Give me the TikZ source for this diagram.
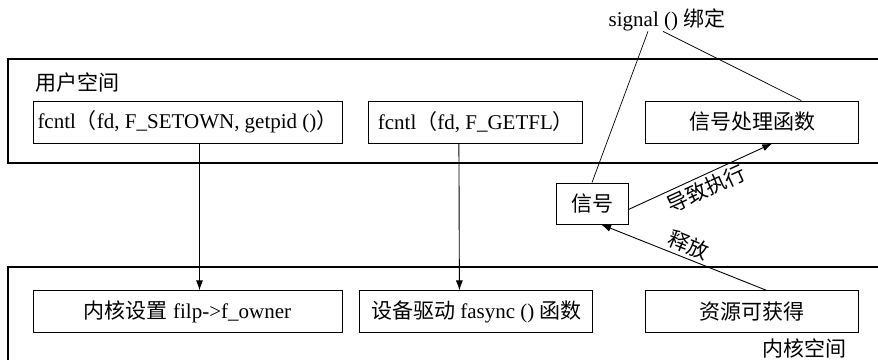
\documentclass[tikz,border=0pt]{standalone}
\usepackage{fontspec}
\setmainfont{Liberation Serif}
\newfontfamily\cjk{Noto Sans CJK SC}
\newcommand{\zh}[1]{{\cjk #1}}
\usetikzlibrary{arrows.meta, positioning}
\tikzstyle{func} = [rectangle, draw, line width=0.9pt, minimum height=42pt, inner sep=2pt, text centered]
\tikzstyle{area} = [line width=1.1pt]
\tikzstyle{tag} = [inner sep=0pt]
\tikzstyle{cable} = [line width=0.9pt, -{Latex[length=10pt,width=7pt]}]
\tikzstyle{bind} = [line width=0.7pt]
\begin{document}
\begin{tikzpicture}[x=1pt, y=-1pt, font=\fontsize{21}{25}\selectfont, node distance=20pt]
  \useasboundingbox (0,0) rectangle (878,360);
  \draw [area] (878,59) -| (8,163) -- (878,163);
  \draw [area] (878,267) -| (8,360);
  \node (user) [tag, anchor=west] at (35,83) {\zh{用户空间}};
  \node (kernel) [tag, anchor=east] at (847,348) {\zh{内核空间}};
  \node (bind) [tag] at (667,20) {signal () \zh{绑定}};
  \node (setown) [func, minimum width=309pt] at (187.5,122) {fcntl\zh{（}fd, F\_SETOWN, getpid ()\zh{）}};
  \node (getfl) [func, minimum width=214pt, right=26pt of setown] {fcntl\zh{（}fd, F\_GETFL\zh{）}};
  \node (handler) [func, minimum width=213pt, right=62pt of getfl] {\zh{信号处理函数}};
  \node (kset) [func, minimum width=309pt, below=147pt of setown] {\zh{内核设置} filp-{}>f\_owner};
  \node (drv) [func, minimum width=233pt, right=17pt of kset] {\zh{设备驱动} fasync () \zh{函数}};
  \node (res) [func, minimum width=213pt, right=52pt of drv] {\zh{资源可获得}};
  \node (sig) [func, minimum width=72pt, minimum height=41pt] at (592,203.5) {\zh{信号}};
  \draw [cable] ([xshift=12pt]setown.south) -- ([xshift=12pt]kset.north);
  \draw [cable] ([xshift=-17pt]getfl.south) -- ([xshift=-17pt]drv.north);
  \draw [cable] ([yshift=-6pt]sig.east) -- node[below, sloped] {\zh{导致执行}} ([xshift=20pt]handler.south);
  \draw [cable] ([xshift=14.5pt]res.north) -- node[above, sloped] {\zh{释放}} ([xshift=9pt]sig.south);
  \draw [bind] ([xshift=-19pt]bind.south) -- (sig.north);
  \draw [bind] ([xshift=-4pt]bind.south) -- ([xshift=49pt]handler.north);
\end{tikzpicture}
\end{document}
